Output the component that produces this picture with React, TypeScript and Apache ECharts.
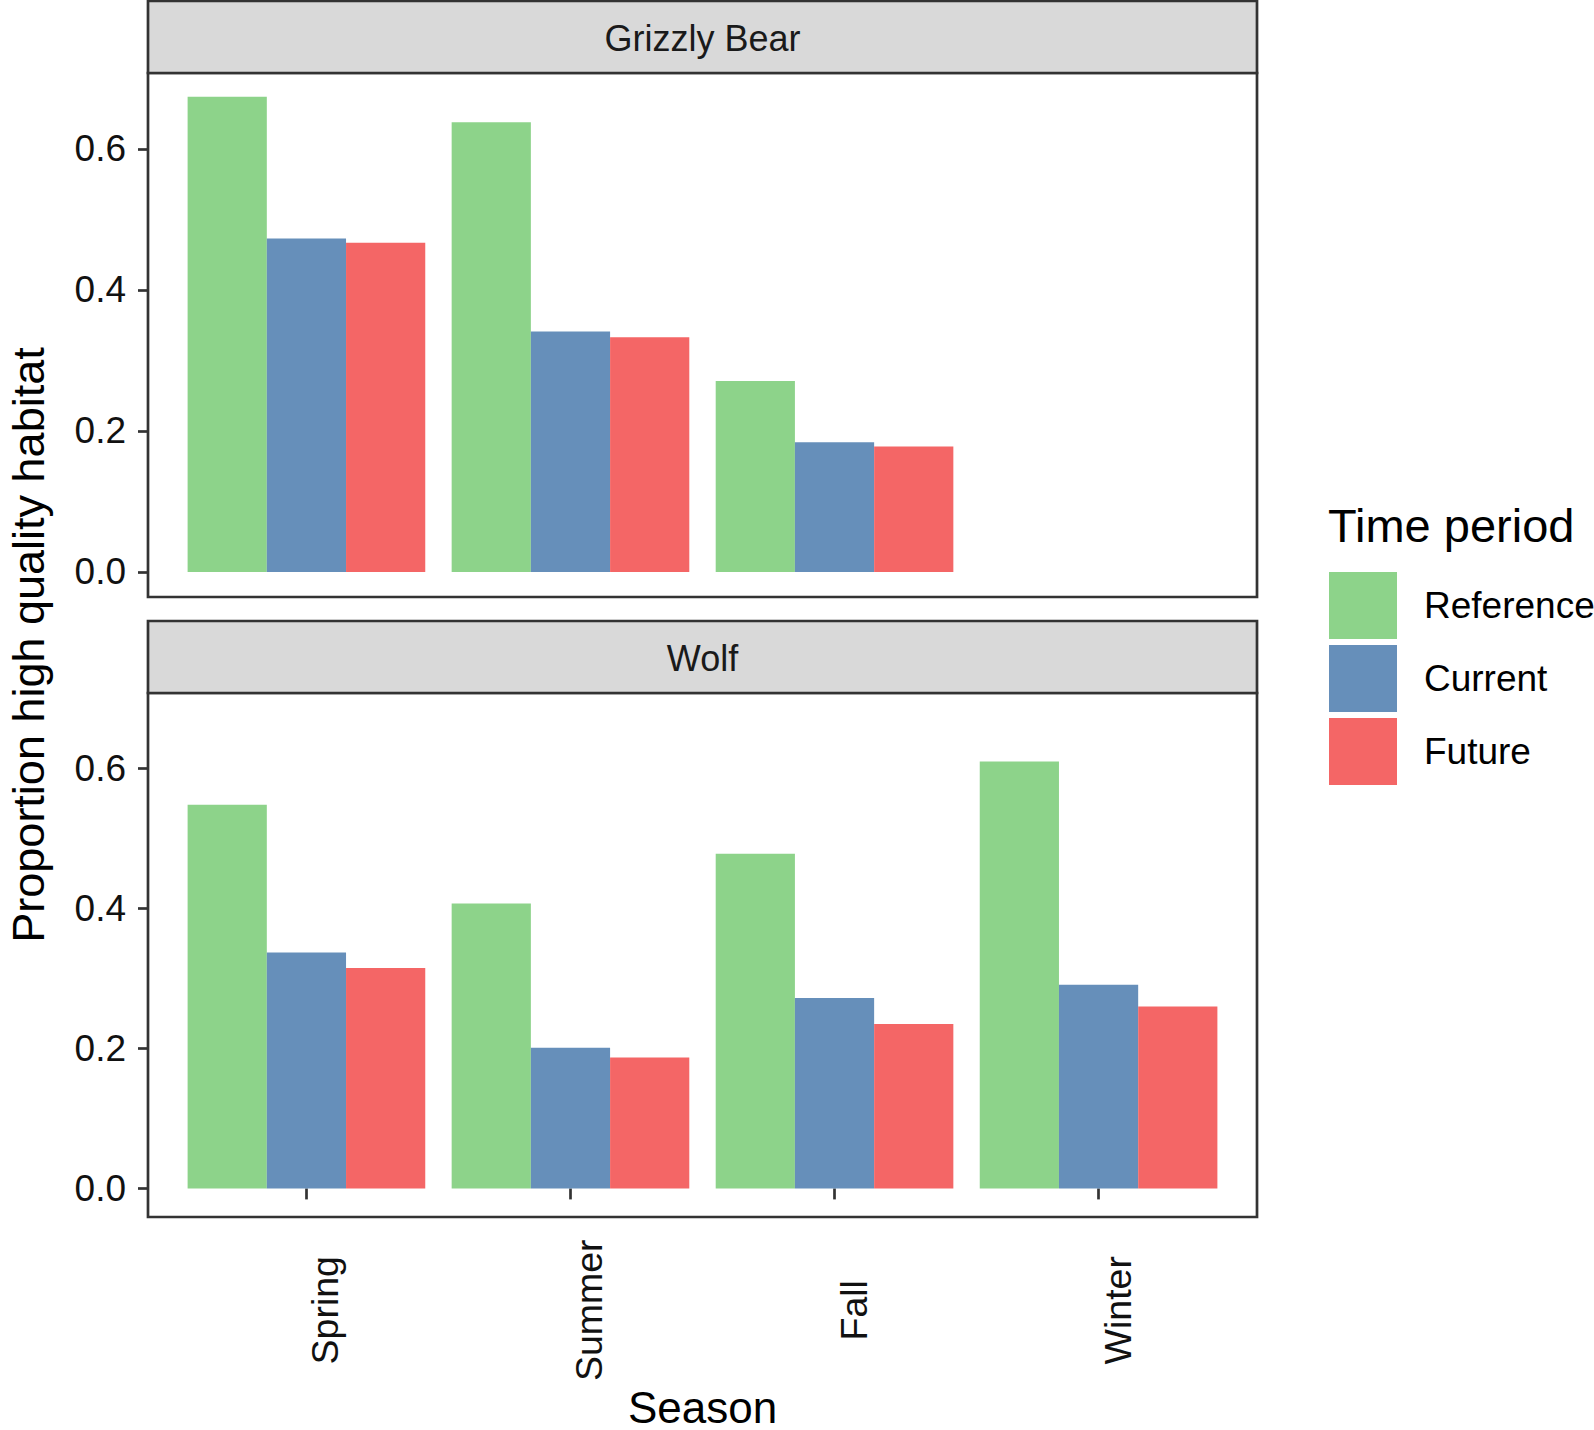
import React, { useEffect, useRef } from "react";
import * as echarts from "echarts";

const categories = ["Spring", "Summer", "Fall", "Winter"];
const periods = ["Reference", "Current", "Future"];
const periodColors = ["#8DD38A", "#668FBA", "#F46666"];
const grizzlyReference = [0.674, 0.638, 0.271, null];
const grizzlyCurrent = [0.473, 0.341, 0.184, null];
const grizzlyFuture = [0.467, 0.333, 0.178, null];
const wolfReference = [0.548, 0.407, 0.478, 0.61];
const wolfCurrent = [0.337, 0.201, 0.272, 0.291];
const wolfFuture = [0.315, 0.187, 0.235, 0.26];
const yTicks = [0, 0.2, 0.4, 0.6];
const facetNames = ["Grizzly Bear", "Wolf"];

const FONT = "'Liberation Sans', Arial, sans-serif";
const BORDER = "#333333";

export default function App() {
  const ref = useRef<HTMLDivElement>(null);

  useEffect(() => {
    if (!ref.current) return;
    const chart = echarts.init(ref.current, null, { renderer: "svg" });

    const panelLeft = 148;
    const panelRight = 1257;
    const panelW = panelRight - panelLeft;
    const unit = panelW / 4.2;
    const gridLeft = panelLeft + 0.1 * unit;
    const gridW = 4 * unit;
    const panelTops = [73, 693];
    const panelH = 524;
    const stripTops = [1, 621];
    const stripH = 72;
    const yMin = -0.0355;
    const yMax = 0.7078;

    const grids = panelTops.map((t) => ({
      left: gridLeft,
      top: t,
      width: gridW,
      height: panelH,
      containLabel: false,
    }));

    const xAxes = [0, 1].map((i) => ({
      type: "category",
      gridIndex: i,
      data: categories,
      boundaryGap: true,
      axisLine: { show: false },
      axisTick: {
        show: i === 1,
        alignWithLabel: true,
        interval: 0,
        length: 11,
        lineStyle: { color: BORDER, width: 2.7 },
      },
      axisLabel: {
        show: i === 1,
        interval: 0,
        rotate: 90,
        align: "center",
        verticalAlign: "top",
        margin: 97,
        fontSize: 37.5,
        fontFamily: FONT,
        color: "#111111",
      },
      splitLine: { show: false },
      name: i === 1 ? "Season" : "",
      nameLocation: "middle",
      nameGap: 185,
      nameTextStyle: {
        fontSize: 44,
        fontFamily: FONT,
        color: "#000000",
        verticalAlign: "middle",
      },
    }));

    const yAxes = [0, 1].map((i) => ({
      type: "value",
      gridIndex: i,
      min: yMin,
      max: yMax,
      offset: gridLeft - panelLeft,
      axisLine: { show: false },
      splitLine: { show: false },
      axisTick: {
        show: true,
        customValues: yTicks,
        length: 10,
        lineStyle: { color: BORDER, width: 2.7 },
      },
      axisLabel: {
        show: true,
        customValues: yTicks,
        margin: 22,
        fontSize: 37,
        fontFamily: FONT,
        color: "#111111",
        formatter: (v: number) => v.toFixed(1),
      },
    }));

    const facetData = [
      [grizzlyReference, grizzlyCurrent, grizzlyFuture],
      [wolfReference, wolfCurrent, wolfFuture],
    ];

    const series: any[] = [];
    facetData.forEach((sets, fi) => {
      sets.forEach((vals, pi) => {
        series.push({
          type: "bar",
          name: periods[pi],
          xAxisIndex: fi,
          yAxisIndex: fi,
          data: vals.map((v) => (v === null ? "-" : v)),
          barWidth: unit * 0.3,
          barGap: "0%",
          itemStyle: { color: periodColors[pi] },
          emphasis: { disabled: true },
        });
      });
    });

    const graphics: any[] = [];
    [0, 1].forEach((i) => {
      graphics.push({
        type: "rect",
        z: 100,
        shape: { x: panelLeft, y: panelTops[i], width: panelW, height: panelH },
        style: { fill: "none", stroke: BORDER, lineWidth: 2.7 },
        silent: true,
      });
      graphics.push({
        type: "rect",
        z: 100,
        shape: { x: panelLeft, y: stripTops[i], width: panelW, height: stripH },
        style: { fill: "#D9D9D9", stroke: BORDER, lineWidth: 2.7 },
        silent: true,
      });
      graphics.push({
        type: "text",
        z: 101,
        x: (panelLeft + panelRight) / 2,
        y: stripTops[i] + stripH / 2 + 1,
        style: {
          text: facetNames[i],
          fontSize: 36,
          fontFamily: FONT,
          fill: "#1A1A1A",
          align: "center",
          verticalAlign: "middle",
        },
        silent: true,
      });
    });
    graphics.push({
      type: "text",
      x: 28,
      y: 645,
      rotation: Math.PI / 2,
      style: {
        text: "Proportion high quality habitat",
        fontSize: 45,
        fontFamily: FONT,
        fill: "#000000",
        align: "center",
        verticalAlign: "middle",
      },
      silent: true,
    });
    graphics.push({
      type: "text",
      x: 1328,
      y: 525,
      style: {
        text: "Time period",
        fontSize: 47,
        fontFamily: FONT,
        fill: "#000000",
        align: "left",
        verticalAlign: "middle",
      },
      silent: true,
    });

    chart.setOption({
      animation: false,
      backgroundColor: "#FFFFFF",
      grid: grids,
      xAxis: xAxes,
      yAxis: yAxes,
      series,
      legend: {
        show: true,
        orient: "vertical",
        left: 1329,
        top: 572,
        padding: 0,
        itemWidth: 68,
        itemHeight: 67,
        itemGap: 6,
        icon: "rect",
        selectedMode: false,
        data: periods,
        textStyle: {
          fontSize: 37,
          fontFamily: FONT,
          color: "#000000",
          padding: [0, 0, 0, 22],
        },
      },
      graphic: graphics,
    });

    return () => chart.dispose();
  }, []);

  return (
    <div
      ref={ref}
      style={{ position: "absolute", left: 0, top: 0, width: 1594, height: 1430 }}
    />
  );
}
